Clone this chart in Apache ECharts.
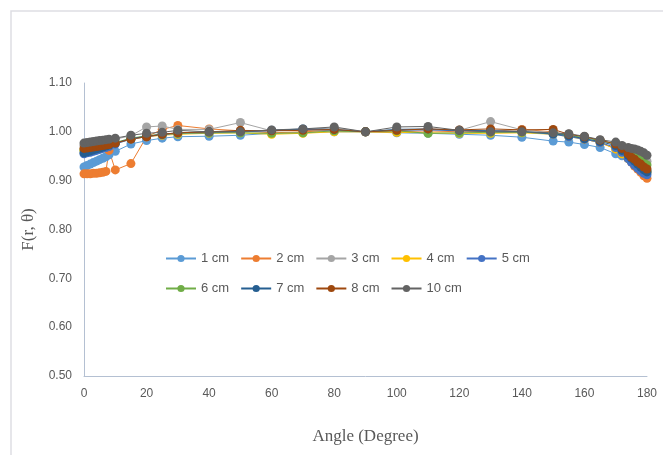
<!DOCTYPE html>
<html>
<head>
<meta charset="utf-8">
<script src="https://cdn.jsdelivr.net/npm/echarts@6/dist/echarts.min.js"></script>
<style>html,body{margin:0;padding:0;background:#fff}#c{width:663px;height:455px}</style>
</head>
<body>
<div id="c"></div>
<script>
const angles = [0,1,2,3,4,5,6,7,8,10,15,20,25,30,40,50,60,70,80,90,100,110,120,130,140,150,155,160,165,170,172,174,175,176,177,178,179,180];
const seriesNames = ['1 cm','2 cm','3 cm','4 cm','5 cm','6 cm','7 cm','8 cm','10 cm'];
const colors = ['#5B9BD5','#ED7D31','#A5A5A5','#FFC000','#4472C4','#70AD47','#255E91','#9E480E','#636363'];
const s1cm = [0.928,0.931,0.934,0.937,0.940,0.943,0.946,0.949,0.953,0.960,0.975,0.982,0.987,0.990,0.991,0.993,0.997,0.998,1.000,1.000,0.998,0.997,0.995,0.993,0.989,0.981,0.979,0.974,0.968,0.955,0.951,0.945,0.942,0.938,0.935,0.930,0.925,0.920];
const s2cm = [0.914,0.914,0.914,0.915,0.915,0.916,0.917,0.919,0.962,0.922,0.935,0.990,1.005,1.013,1.006,1.002,0.998,1.000,1.003,1.000,1.000,1.002,1.000,1.001,1.005,1.000,0.992,0.985,0.978,0.965,0.955,0.945,0.938,0.930,0.924,0.917,0.910,0.905];
const s3cm = [0.972,0.973,0.974,0.975,0.976,0.977,0.978,0.979,0.980,0.985,0.992,1.010,1.012,1.005,1.005,1.019,1.002,1.005,1.008,1.000,1.005,1.005,1.003,1.021,1.004,0.998,0.995,0.990,0.982,0.975,0.968,0.962,0.958,0.955,0.950,0.946,0.943,0.940];
const s4cm = [0.962,0.963,0.964,0.965,0.967,0.968,0.970,0.971,0.972,0.976,0.985,0.990,0.993,0.995,0.997,0.998,0.995,0.997,1.000,1.000,0.999,0.998,0.997,0.997,0.998,0.995,0.990,0.985,0.978,0.965,0.955,0.945,0.940,0.935,0.930,0.925,0.920,0.918];
const s5cm = [0.955,0.957,0.958,0.960,0.962,0.964,0.966,0.968,0.970,0.975,0.985,0.990,0.994,0.997,0.998,1.000,1.002,1.005,1.003,1.000,1.003,1.004,1.002,1.002,1.000,0.995,0.990,0.985,0.978,0.968,0.958,0.945,0.938,0.932,0.926,0.920,0.915,0.912];
const s6cm = [0.963,0.964,0.965,0.967,0.968,0.970,0.971,0.973,0.974,0.978,0.987,0.992,0.995,0.997,0.998,0.998,0.997,0.998,1.002,1.000,1.002,0.997,0.998,0.999,0.999,0.997,0.993,0.988,0.982,0.975,0.970,0.962,0.958,0.953,0.948,0.942,0.937,0.932];
const s7cm = [0.957,0.959,0.961,0.963,0.965,0.967,0.969,0.971,0.973,0.977,0.986,0.991,0.995,0.998,1.000,1.001,1.003,1.006,1.005,1.000,1.005,1.006,1.003,1.002,1.001,0.996,0.992,0.986,0.980,0.972,0.962,0.952,0.946,0.940,0.934,0.928,0.922,0.918];
const s8cm = [0.966,0.967,0.968,0.969,0.970,0.971,0.972,0.973,0.974,0.977,0.985,0.990,0.995,0.998,1.000,1.003,1.002,1.003,1.005,1.000,1.003,1.006,1.004,1.006,1.004,1.005,0.995,0.990,0.983,0.975,0.966,0.955,0.948,0.944,0.938,0.934,0.928,0.924];
const s10cm = [0.977,0.978,0.979,0.980,0.981,0.982,0.983,0.984,0.985,0.987,0.993,0.997,0.999,1.003,1.000,1.000,1.004,1.006,1.010,1.000,1.010,1.011,1.003,1.000,1.000,0.998,0.996,0.991,0.984,0.979,0.972,0.968,0.966,0.965,0.963,0.960,0.957,0.952];
const allValues = [s1cm,s2cm,s3cm,s4cm,s5cm,s6cm,s7cm,s8cm,s10cm];
const xTicks = {min:0, max:180, interval:20};
const yTicks = {min:0.5, max:1.1, interval:0.1};

const chart = echarts.init(document.getElementById('c'));
const series = seriesNames.map((n,i)=>({
  name:n, type:'line', color:colors[i],
  data: angles.map((a,j)=>[a, allValues[i][j]]),
  symbol:'circle', symbolSize: 9, showSymbol:true,
  lineStyle:{width:1, color:colors[i]},
  itemStyle:{color:colors[i]},
  animation:false
}));
const legendText = {color:'#595959', fontSize:13, fontFamily:'Liberation Sans'};
chart.setOption({
  animation:false,
  backgroundColor:'#fff',
  graphic:[{type:'rect', shape:{x:11,y:11,width:700,height:500}, style:{fill:'none', stroke:'#DEDEE3', lineWidth:1.5}, silent:true}],
  grid:{left:84, right:16, top:83, bottom:79},
  legend:[
    {data:seriesNames.slice(0,5), left:165, top:252, padding:0, itemWidth:30, itemHeight:9, itemGap:11, textStyle:legendText},
    {data:seriesNames.slice(5), left:165, top:282, padding:0, itemWidth:30, itemHeight:9, itemGap:11, textStyle:legendText}
  ],
  xAxis:{type:'value', min:xTicks.min, max:xTicks.max, interval:xTicks.interval,
    name:'Angle (Degree)', nameLocation:'middle', nameGap:52,
    nameTextStyle:{fontFamily:'Liberation Serif', fontSize:17, color:'#595959'},
    axisLine:{lineStyle:{color:'#B4C0D2'}}, axisTick:{show:false}, splitLine:{show:false},
    axisLabel:{color:'#595959', fontSize:12, fontFamily:'Liberation Sans', margin:12}},
  yAxis:{type:'value', min:yTicks.min, max:yTicks.max, interval:yTicks.interval,
    name:'F(r, θ)', nameLocation:'middle', nameGap:47, nameRotate:90,
    nameTextStyle:{fontFamily:'Liberation Serif', fontSize:17, color:'#595959'},
    axisLine:{show:true, lineStyle:{color:'#B4C0D2'}}, axisTick:{show:false}, splitLine:{show:false},
    axisLabel:{color:'#595959', fontSize:12, fontFamily:'Liberation Sans', margin:12, formatter:v=>v.toFixed(2)}},
  series
});
</script>
</body>
</html>
